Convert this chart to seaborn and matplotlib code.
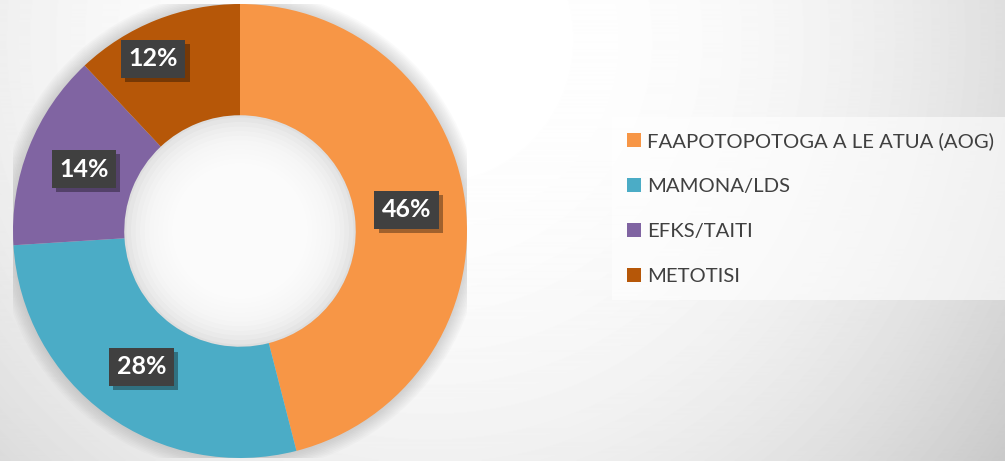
import numpy as np
import matplotlib
matplotlib.use("Agg")
import matplotlib.pyplot as plt
import matplotlib.patheffects as pe
from matplotlib.patches import Patch, Circle
import seaborn as sns

# data
churches = ["FAAPOTOPOTOGA A LE ATUA (AOG)", "MAMONA/LDS", "EFKS/TAITI", "METOTISI"]
shares = [46, 28, 14, 12]
slice_colors = ["#F79646", "#4BACC6", "#8064A2", "#B65708"]

sns.set_theme(style="white")
plt.rcParams["font.family"] = ["Lato", "DejaVu Sans"]
palette = sns.color_palette(slice_colors)

W, H = 1005, 461
fig = plt.figure(figsize=(W / 100, H / 100), dpi=100)

# radial grey background
bg = fig.add_axes([0, 0, 1, 1])
yy, xx = np.mgrid[0:H, 0:W]
d = np.hypot(xx - 430, yy - 40)
grad = 1 - 0.216 * (d / 713) ** 2.5
bg.imshow(grad, cmap="gray", vmin=0, vmax=1, extent=(0, W, H, 0), aspect="auto")
bg.set_axis_off()

# donut axes, centre (240, 231) px, radius 227 px
cx, cy, r = 240, 231, 227
ax = fig.add_axes([(cx - r) / W, (H - cy - r) / H, 2 * r / W, 2 * r / H])
ax.set_facecolor("none")

# soft shadow around the ring
for k in range(1, 10):
    ax.add_patch(Circle((0, 0), 1 + k * 0.007, color="#808080", alpha=0.035, lw=0, zorder=0))
# hole: grey edge fading to white
ax.add_patch(Circle((0, 0), 0.51, color="#dedede", lw=0, zorder=0))
for k in range(12):
    ax.add_patch(Circle((0, 0), 0.5 - k * 0.02, color="white", alpha=0.22, lw=0, zorder=0))

wedges, _, pcts = ax.pie(
    shares,
    colors=palette,
    startangle=90,
    counterclock=False,
    radius=1,
    pctdistance=0.74,
    autopct="%d%%",
    wedgeprops=dict(width=0.49, linewidth=0),
    textprops=dict(color="white", fontsize=18, fontweight="bold"),
)
for w in wedges:
    w.set_zorder(2)

# last label sits a bit further out / counter-clockwise
x, y = pcts[3].get_position()
pcts[3].set_position((x - 0.11, y + 0.07))

for t in pcts:
    t.set_zorder(5)
    t.set_bbox(dict(boxstyle="square,pad=0.3", facecolor="#404040", edgecolor="none"))
    t.get_bbox_patch().set_path_effects(
        [pe.SimplePatchShadow(offset=(3, -3), shadow_rgbFace="black", alpha=0.35), pe.Normal()]
    )

ax.set_xlim(-1, 1)
ax.set_ylim(-1, 1)
ax.set_aspect("equal")
ax.set_axis_off()

handles = [Patch(facecolor=c, edgecolor="none") for c in palette]
leg = fig.legend(
    handles,
    churches,
    loc="upper left",
    bbox_to_anchor=(612 / W, (H - 117) / H),
    borderaxespad=0,
    frameon=True,
    fontsize=14.6,
    handlelength=0.66,
    handleheight=0.66,
    handletextpad=0.33,
    labelspacing=1.38,
    borderpad=0.75,
    fancybox=False,
)
leg.get_frame().set_facecolor("white")
leg.get_frame().set_alpha(0.6)
leg.get_frame().set_edgecolor("none")
for t in leg.get_texts():
    t.set_color("#404040")

fig.savefig("out.png", dpi=100)
